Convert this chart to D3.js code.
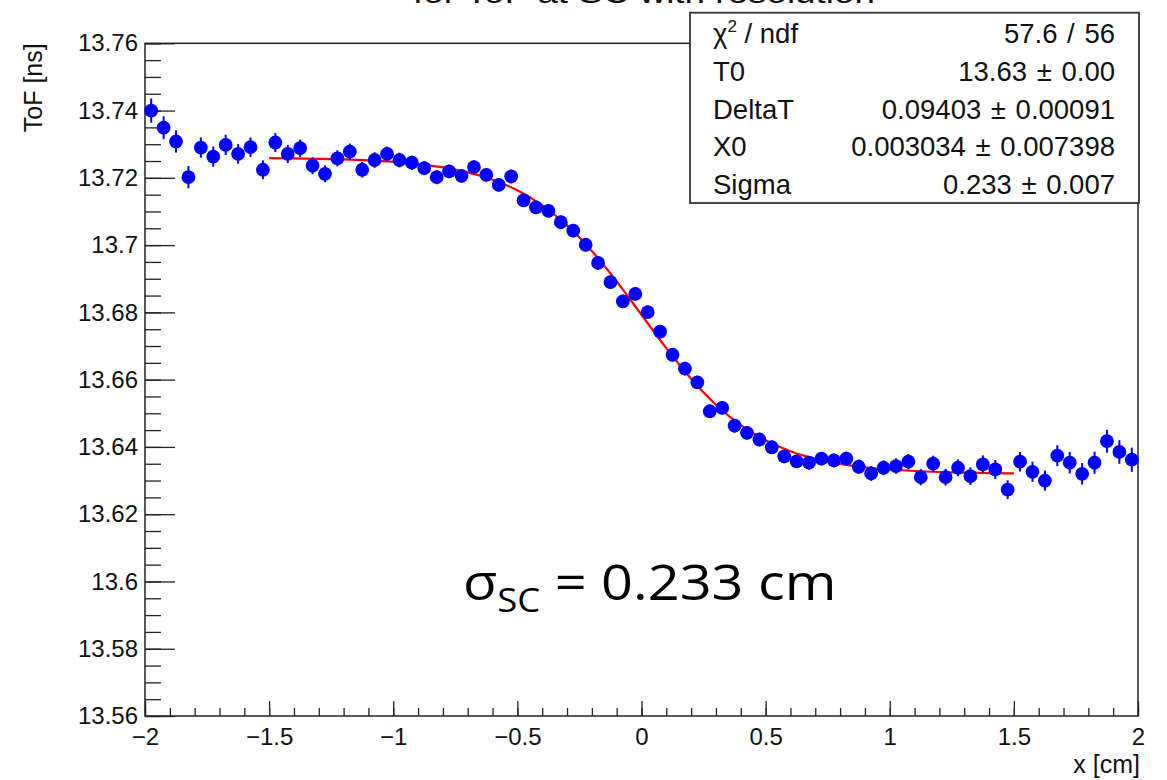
<!DOCTYPE html>
<html>
<head>
<meta charset="utf-8">
<script src="https://cdn.jsdelivr.net/npm/d3@7/dist/d3.min.js"></script>
<style>
  html, body { margin: 0; padding: 0; background: #fff; }
  svg { display: block; }
</style>
</head>
<body>
<svg id="chart" width="1167" height="780"></svg>
<script>
// ---------------- data ----------------
const titleText = "for ToF at SC with resolution";
const xLabel = "x [cm]";
const yLabel = "ToF [ns]";

const xCenters = [
  -1.975,-1.925,-1.875,-1.825,-1.775,-1.725,-1.675,-1.625,-1.575,-1.525,
  -1.475,-1.425,-1.375,-1.325,-1.275,-1.225,-1.175,-1.125,-1.075,-1.025,
  -0.975,-0.925,-0.875,-0.825,-0.775,-0.725,-0.675,-0.625,-0.575,-0.525,
  -0.475,-0.425,-0.375,-0.325,-0.275,-0.225,-0.175,-0.125,-0.075,-0.025,
   0.025, 0.075, 0.125, 0.175, 0.225, 0.275, 0.325, 0.375, 0.425, 0.475,
   0.525, 0.575, 0.625, 0.675, 0.725, 0.775, 0.825, 0.875, 0.925, 0.975,
   1.025, 1.075, 1.125, 1.175, 1.225, 1.275, 1.325, 1.375, 1.425, 1.475,
   1.525, 1.575, 1.625, 1.675, 1.725, 1.775, 1.825, 1.875, 1.925, 1.975
];

const tofValues = [
  13.7400,13.7349,13.7308,13.7202,13.7290,13.7263,13.7298,13.7271,13.7291,13.7224,
  13.7305,13.7271,13.7288,13.7236,13.7212,13.7258,13.7278,13.7224,13.7253,13.7271,
  13.7253,13.7245,13.7229,13.7202,13.7219,13.7206,13.7232,13.7209,13.7179,13.7204,
  13.7133,13.7112,13.7102,13.7068,13.7043,13.7001,13.6947,13.6890,13.6833,13.6855,
  13.6801,13.6743,13.6674,13.6633,13.6592,13.6506,13.6516,13.6463,13.6442,13.6422,
  13.6399,13.6372,13.6357,13.6353,13.6365,13.6360,13.6365,13.6341,13.6321,13.6338,
  13.6343,13.6356,13.6310,13.6350,13.6310,13.6338,13.6313,13.6348,13.6333,13.6273,
  13.6356,13.6326,13.6300,13.6374,13.6353,13.6320,13.6353,13.6417,13.6385,13.6362
];

const tofErrors = [
  0.0036,0.0034,0.0033,0.0033,0.0030,0.0030,0.0030,0.0029,0.0029,0.0028,
  0.0028,0.0027,0.0026,0.0025,0.0025,0.0024,0.0024,0.0023,0.0023,0.0022,
  0.0022,0.0021,0.0021,0.0021,0.0020,0.0020,0.0020,0.0020,0.0020,0.0020,
  0.0020,0.0020,0.0020,0.0020,0.0020,0.0020,0.0020,0.0020,0.0020,0.0020,
  0.0020,0.0020,0.0020,0.0020,0.0020,0.0020,0.0020,0.0020,0.0020,0.0020,
  0.0020,0.0020,0.0020,0.0020,0.0020,0.0021,0.0021,0.0021,0.0022,0.0022,
  0.0023,0.0023,0.0024,0.0024,0.0025,0.0025,0.0026,0.0027,0.0028,0.0028,
  0.0029,0.0030,0.0030,0.0031,0.0032,0.0032,0.0033,0.0034,0.0035,0.0036
];

const fitX = [
  -1.5,-1.4,-1.3,-1.2,-1.1,-1.0,-0.9,-0.8,-0.7,-0.6,-0.5,-0.4,-0.3,-0.2,-0.1,
   0.0, 0.1, 0.2, 0.3, 0.4, 0.5, 0.6, 0.7, 0.8, 0.9, 1.0, 1.1, 1.2, 1.3, 1.4, 1.5
];
const fitY = [
  13.72585,13.72577,13.72565,13.72547,13.72518,13.72475,13.72409,13.72310,13.72161,13.71943,
  13.71628,13.71184,13.70587,13.69827,13.68922,
  13.67930,13.66936,13.66024,13.65253,13.64647,13.64196,13.63873,13.63650,13.63498,13.63396,
  13.63328,13.63284,13.63255,13.63236,13.63223,13.63215
];

const yTicks = [13.56,13.58,13.60,13.62,13.64,13.66,13.68,13.70,13.72,13.74,13.76];
const yTickLabels = ["13.56","13.58","13.6","13.62","13.64","13.66","13.68","13.7","13.72","13.74","13.76"];
const xTicks = [-2,-1.5,-1,-0.5,0,0.5,1,1.5,2];
const xTickLabels = ["\u22122","\u22121.5","\u22121","\u22120.5","0","0.5","1","1.5","2"];

const statNames = ["\u03c7", "T0", "DeltaT", "X0", "Sigma"];
const statValues = ["57.6 / 56", "13.63 \u00b1 0.00", "0.09403 \u00b1 0.00091", "0.003034 \u00b1 0.007398", "0.233 \u00b1 0.007"];

// ---------------- drawing ----------------
const svg = d3.select("#chart");
const FONT = "'Liberation Sans', Arial, Helvetica, sans-serif";

const x = d3.scaleLinear().domain([-2, 2]).range([145, 1138]);
const y = d3.scaleLinear().domain([13.56, 13.76]).range([716, 43.3]);

// title (cut off at the top of the picture, as in the reference)
svg.append("text")
  .attr("x", 644).attr("y", 3)
  .attr("text-anchor", "middle")
  .attr("font-family", FONT).attr("font-size", 30)
  .attr("textLength", 462).attr("lengthAdjust", "spacingAndGlyphs")
  .attr("fill", "#111")
  .text(titleText);

// minor ticks
const yMinor = d3.range(13.56, 13.7601, 0.005);
const xMinor = d3.range(-2, 2.0001, 0.1);

const gYmin = svg.append("g").attr("transform", `translate(${x(-2)},0)`)
  .call(d3.axisLeft(y).tickValues(yMinor).tickSize(-16).tickFormat(""));
const gXmin = svg.append("g").attr("transform", `translate(0,${y(13.56)})`)
  .call(d3.axisBottom(x).tickValues(xMinor).tickSize(-8).tickFormat(""));

// major ticks + labels
const gY = svg.append("g").attr("transform", `translate(${x(-2)},0)`)
  .call(d3.axisLeft(y).tickValues(yTicks).tickSize(-30).tickPadding(7)
    .tickFormat((d, i) => yTickLabels[i]));
const gX = svg.append("g").attr("transform", `translate(0,${y(13.56)})`)
  .call(d3.axisBottom(x).tickValues(xTicks).tickSize(-15).tickPadding(12)
    .tickFormat((d, i) => xTickLabels[i]));

[gYmin, gXmin, gY, gX].forEach(g => {
  g.select(".domain").remove();
  g.selectAll(".tick line").attr("stroke", "#222").attr("stroke-width", 1.3);
  g.selectAll("text").attr("font-family", FONT).attr("font-size", 24).attr("fill", "#111");
});

// frame
svg.append("rect")
  .attr("x", x(-2)).attr("y", y(13.76))
  .attr("width", x(2) - x(-2)).attr("height", y(13.56) - y(13.76))
  .attr("fill", "none").attr("stroke", "#222").attr("stroke-width", 1.5);

// axis titles
svg.append("text")
  .attr("x", x(2) + 2).attr("y", 773)
  .attr("text-anchor", "end")
  .attr("font-family", FONT).attr("font-size", 25).attr("fill", "#111")
  .text(xLabel);

svg.append("text")
  .attr("transform", `translate(42,${y(13.76)}) rotate(-90)`)
  .attr("text-anchor", "end")
  .attr("font-family", FONT).attr("font-size", 25).attr("fill", "#111")
  .text(yLabel);

// fit curve
const line = d3.line().x((d, i) => x(fitX[i])).y((d, i) => y(fitY[i])).curve(d3.curveMonotoneX);
svg.append("path")
  .datum(fitX)
  .attr("d", line)
  .attr("fill", "none").attr("stroke", "#ff0000").attr("stroke-width", 2.2);

// error bars + markers
const pts = svg.append("g");
pts.selectAll("line.err").data(xCenters).join("line")
  .attr("class", "err")
  .attr("x1", d => x(d)).attr("x2", d => x(d))
  .attr("y1", (d, i) => y(tofValues[i] - tofErrors[i]))
  .attr("y2", (d, i) => y(tofValues[i] + tofErrors[i]))
  .attr("stroke", "#0000ff").attr("stroke-width", 2);
pts.selectAll("circle").data(xCenters).join("circle")
  .attr("cx", d => x(d))
  .attr("cy", (d, i) => y(tofValues[i]))
  .attr("r", 6.9)
  .attr("fill", "#0000ff");

// stats box
const box = svg.append("g");
box.append("rect")
  .attr("x", 690).attr("y", 12.7).attr("width", 449).attr("height", 190.3)
  .attr("fill", "#fff").attr("stroke", "#333").attr("stroke-width", 1.8);
const rowBase = [43, 81.4, 118.7, 156.4, 193.7];
statNames.forEach((n, i) => {
  const t = box.append("text")
    .attr("x", 713).attr("y", rowBase[i])
    .attr("font-family", FONT).attr("font-size", 27.5).attr("fill", "#111");
  if (i === 0) {
    t.append("tspan").text(n);
    t.append("tspan").attr("font-size", 17).attr("dy", -11).text("2");
    t.append("tspan").attr("dy", 11).text(" / ndf");
  } else {
    t.text(n);
  }
  box.append("text")
    .attr("x", 1115).attr("y", rowBase[i])
    .attr("text-anchor", "end")
    .attr("font-family", FONT).attr("font-size", 27.5).attr("fill", "#111")
    .attr("word-spacing", 2)
    .text(statValues[i]);
});

// annotation
const ann = svg.append("text")
  .attr("transform", "translate(463,600) scale(1.14,1)")
  .attr("font-family", "'Open Sans', 'Noto Sans', sans-serif")
  .attr("font-size", 49).attr("fill", "#000");
ann.append("tspan").text("\u03c3");
ann.append("tspan").attr("font-size", 32).attr("dy", 12).text("SC");
ann.append("tspan").attr("dy", -12).text(" = 0.233 cm");
</script>
</body>
</html>
